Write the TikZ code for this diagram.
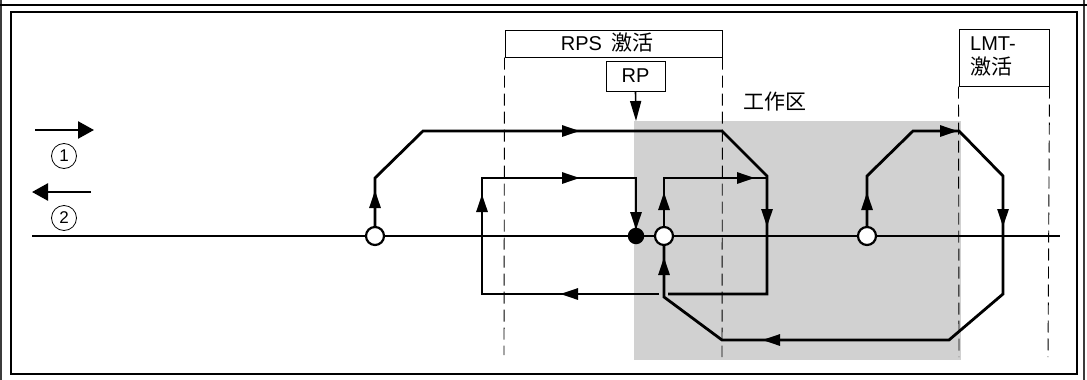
\documentclass[tikz,border=0pt]{standalone}
\usepackage{fontspec}
\setmainfont{Liberation Sans}
\newfontfamily\cjk{Noto Sans CJK SC}
\usetikzlibrary{arrows.meta}
\definecolor{zone}{RGB}{209,209,209}
\definecolor{framegray}{RGB}{60,60,60}
\begin{document}
\begin{tikzpicture}[x=1pt,y=-1pt,
  trackline/.style={line width=2.8pt, line join=miter, line cap=butt},
  dashline/.style={line width=0.9pt, dash pattern=on 12pt off 6pt},
  midarr/.style={line width=2.8pt, -{Triangle[length=18pt,width=11pt]}},
  legarr/.style={line width=2.6pt, -{Triangle[length=16pt,width=17pt]}},
  boxnode/.style={draw, line width=1pt, inner sep=0pt, font=\fontsize{20}{23}\selectfont},
  opencirc/.style={circle, draw, fill=white, line width=2.2pt, minimum size=18pt, inner sep=0pt},
  filledcirc/.style={circle, fill=black, minimum size=16.5pt, inner sep=0pt},
  numcirc/.style={circle, draw, line width=0.8pt, minimum size=25pt, inner sep=0pt, font=\fontsize{17}{19}\selectfont},
  lbl/.style={inner sep=0pt, font=\fontsize{20}{23}\selectfont},
  cjklbl/.style={inner sep=0pt, font=\fontsize{21}{24}\selectfont\cjk}]
\useasboundingbox (0,0) rectangle (1087,380);
% frames
\draw[framegray, line width=2pt] (1,0) -- (1,380);
\draw[framegray, line width=2pt] (1084,0) -- (1084,380);
\draw[line width=1.5pt] (0,5) -- (1087,5);
\draw[line width=1.2pt] (11,12) rectangle (1077,374);
% working zone
\fill[zone] (634,121) rectangle (961,360);
\node[cjklbl] (zlabel) at (775,102) {工作区};
% boxes
\node[boxnode, minimum width=217pt, minimum height=27pt] (rps) at (613.5,43.5) {};
\node[lbl] (rpstext) at (607,43) {RPS\hspace{0.45em}{\fontsize{21}{24}\selectfont\cjk 激活}};
\node[boxnode, minimum width=59pt, minimum height=30pt] (rp) at (635.5,76) {RP};
\node[boxnode, minimum width=90pt, minimum height=57pt] (lmt) at (1004,57.5) {};
\node[lbl, anchor=west] (lmt1) at (970,44) {LMT-};
\node[cjklbl, anchor=west] (lmt2) at (970,67) {激活};
% dashed lines
\coordinate (d1) at (504,355);
\coordinate (d2) at (722,357);
\coordinate (d3) at (959,357);
\coordinate (d4) at (1048,357);
\draw[dashline] (rps.south west) -- (d1);
\draw[dashline] (rps.south east) -- (d2);
\draw[dashline] (lmt.south west) -- (d3);
\draw[dashline] (lmt.south east) -- (d4);
% RP arrow
\coordinate (rptip) at (636,121);
\draw[line width=1.6pt, -{Triangle[length=20pt,width=11pt]}] (rp.south) -- (rptip);
% legend
\coordinate (la1) at (35,130); \coordinate (lb1) at (94,130);
\coordinate (la2) at (91,192); \coordinate (lb2) at (32,192);
\draw[legarr] (la1) -- (lb1);
\draw[legarr] (la2) -- (lb2);
\node[numcirc] (n1) at (64,156) {1};
\node[numcirc] (n2) at (64,218) {2};
% main axis
\coordinate (axL) at (32,236);
\coordinate (axR) at (1060,236);
\draw[trackline] (axL) -- (axR);
% positions
\coordinate (c1) at (375,236);
\coordinate (c2) at (664,236);
\coordinate (c3) at (867,236);
\coordinate (c4) at (636,236);
% path 1
\coordinate (p1a) at (375,178);
\coordinate (p1b) at (423,131);
\coordinate (p1c) at (722,131);
\coordinate (p1d) at (767,176);
\coordinate (p1e) at (767,294);
\coordinate (p1g) at (668,294);
\coordinate (p1h) at (659,294);
\coordinate (p1i) at (482,294);
\coordinate (p1j) at (482,178);
\coordinate (p1k) at (636,178);
\draw[trackline] (c1) -- (p1a) -- (p1b) -- (p1c) -- (p1d) -- (p1e) -- (p1g);
\draw[trackline] (p1h) -- (p1i) -- (p1j) -- (p1k) -- (c4);
% path 2
\coordinate (p2a) at (664,178);
\coordinate (p2b) at (767,178);
\draw[trackline] (c2) -- (p2a) -- (p2b);
% path 3
\coordinate (p3a) at (664,297);
\coordinate (p3b) at (722,340);
\coordinate (p3c) at (949,340);
\coordinate (p3d) at (1003,294);
\coordinate (p3e) at (1003,176);
\coordinate (p3f) at (959,131);
\coordinate (p3g) at (913,131);
\coordinate (p3h) at (867,176);
\draw[trackline] (c2) -- (p3a) -- (p3b) -- (p3c) -- (p3d) -- (p3e) -- (p3f) -- (p3g) -- (p3h) -- (c3);
% mid arrows
\draw[midarr] (375,215) -- (375,190);
\draw[midarr] (545,131) -- (580,131);
\draw[midarr] (767,195) -- (767,227);
\draw[midarr] (595,294) -- (560,294);
\draw[midarr] (482,230) -- (482,194);
\draw[midarr] (545,178) -- (580,178);
\draw[midarr] (636,200) -- (636,230);
\draw[midarr] (664,220) -- (664,192);
\draw[midarr] (715,178) -- (755,178);
\draw[midarr] (664,285) -- (664,257);
\draw[midarr] (800,340) -- (762,340);
\draw[midarr] (1003,190) -- (1003,227);
\draw[midarr] (920,131) -- (958,131);
\draw[midarr] (867,220) -- (867,192);
% circles
\node[opencirc] (k1) at (c1) {};
\node[opencirc] (k2) at (c2) {};
\node[opencirc] (k3) at (c3) {};
\node[filledcirc] (k4) at (c4) {};
\end{tikzpicture}
\end{document}
